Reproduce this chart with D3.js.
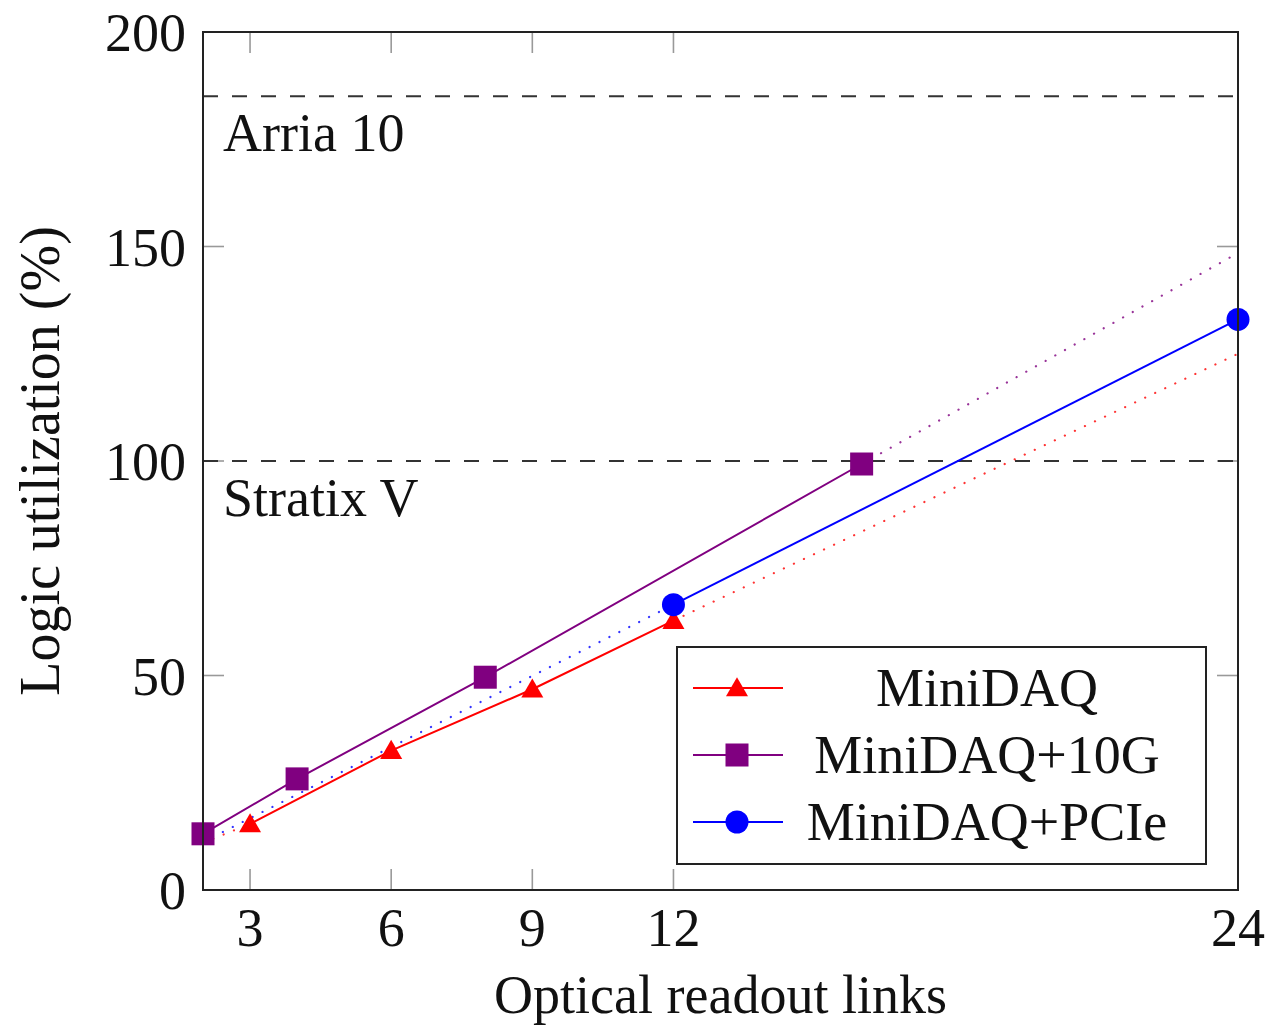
<!DOCTYPE html>
<html lang="en">
<head>
  <meta charset="UTF-8">
  <title>Logic utilization</title>
  <style>
    body { margin: 0; background: #fff; }
    text { font-family: 'Liberation Serif', 'DejaVu Serif', serif; fill: #111; }
  </style>
</head>
<body>
  <div id="svg"></div>
  <script src="https://d3js.org/d3.v7.min.js"></script>
  <script>
    // data
    const xTicks = [3, 6, 9, 12, 24]
    const yTicks = [0, 50, 100, 150, 200]

    const miniX = [3, 6, 9, 12]
    const miniY = [15.4, 32.5, 46.8, 62.8]
    const tenGX = [2, 4, 8, 16]
    const tenGY = [13.1, 25.9, 49.6, 99.3]
    const pcieX = [12, 24]
    const pcieY = [66.5, 133]

    // dotted extrapolations
    const miniFitX = [[2, 3], [12, 24]]
    const miniFitY = [[11.0, 15.4], [62.8, 125]]
    const tenGFitX = [[16, 24]]
    const tenGFitY = [[99.3, 148.5]]
    const pcieFitX = [[2, 12]]
    const pcieFitY = [[11.2, 66.5]]

    const limitNames = ['Arria 10', 'Stratix V']
    const limitValues = [185, 100]

    const seriesNames = ['MiniDAQ', 'MiniDAQ+10G', 'MiniDAQ+PCIe']

    const width = 1269
    const height = 1026
    const padding = { top: 32, left: 203, bottom: 136, right: 31 }

    const svg = d3.select('#svg').append('svg').attr('width', width).attr('height', height)

    const xScale = d3.scaleLinear().domain([2, 24]).range([padding.left, width - padding.right])
    const yScale = d3.scaleLinear().domain([0, 200]).range([height - padding.bottom, padding.top])

    const x0 = xScale.range()[0], x1 = xScale.range()[1]
    const y0 = yScale.range()[0], y1 = yScale.range()[1]

    const fs = 54
    const tickLen = 21

    // ticks (inward, gray, on all four sides)
    const tickG = svg.append('g').attr('stroke', '#999').attr('stroke-width', 1.6)
    xTicks.forEach(t => {
      tickG.append('line').attr('x1', xScale(t)).attr('x2', xScale(t)).attr('y1', y0).attr('y2', y0 - tickLen)
      tickG.append('line').attr('x1', xScale(t)).attr('x2', xScale(t)).attr('y1', y1).attr('y2', y1 + tickLen)
    })
    yTicks.forEach(t => {
      tickG.append('line').attr('x1', x0).attr('x2', x0 + tickLen).attr('y1', yScale(t)).attr('y2', yScale(t))
      tickG.append('line').attr('x1', x1).attr('x2', x1 - tickLen).attr('y1', yScale(t)).attr('y2', yScale(t))
    })

    // tick labels
    svg.selectAll('.xl').data(xTicks).enter().append('text')
      .attr('x', d => xScale(d)).attr('y', y0 + 56)
      .attr('text-anchor', 'middle').attr('font-size', fs)
      .text(d => d)
    svg.selectAll('.yl').data(yTicks).enter().append('text')
      .attr('x', x0 - 17).attr('y', d => yScale(d) + 19)
      .attr('text-anchor', 'end').attr('font-size', fs)
      .text(d => d)

    // axis titles
    svg.append('text').attr('x', (x0 + x1) / 2).attr('y', 1013)
      .attr('text-anchor', 'middle').attr('font-size', fs).text('Optical readout links')
    svg.append('text')
      .attr('transform', `translate(59,${(y0 + y1) / 2}) rotate(-90)`)
      .attr('text-anchor', 'middle').attr('font-size', fs + 2).text('Logic utilization (%)')

    // limit lines
    limitValues.forEach((v, i) => {
      svg.append('line').attr('x1', x0).attr('x2', x1).attr('y1', yScale(v)).attr('y2', yScale(v))
        .attr('stroke', '#333').attr('stroke-width', 2).attr('stroke-dasharray', '15,14')
      svg.append('text').attr('x', x0 + 20).attr('y', yScale(v) + 55)
        .attr('font-size', fs).text(limitNames[i])
    })

    const line = d3.line().x(d => xScale(d[0])).y(d => yScale(d[1]))
    const zip = (xs, ys) => xs.map((x, i) => [x, ys[i]])

    // dotted extrapolations
    const drawFit = (xs, ys, color) => {
      xs.forEach((seg, i) => {
        svg.append('path').attr('d', line(zip(seg, ys[i])))
          .attr('fill', 'none').attr('stroke', color).attr('stroke-width', 2.2)
          .attr('stroke-linecap', 'round').attr('stroke-dasharray', '0.1,11').attr('opacity', 0.8)
      })
    }
    drawFit(pcieFitX, pcieFitY, 'blue')
    drawFit(miniFitX, miniFitY, 'red')
    drawFit(tenGFitX, tenGFitY, 'purple')

    // marker shapes
    const tri = d3.symbol().type(d3.symbolTriangle).size(210)
    const drawMarker = (g, kind, color) => {
      if (kind === 'tri') g.append('path').attr('d', tri()).attr('fill', color).attr('transform', 'translate(0,2)')
      if (kind === 'sq') g.append('rect').attr('x', -11.5).attr('y', -11.5).attr('width', 23).attr('height', 23).attr('fill', color)
      if (kind === 'circ') g.append('circle').attr('r', 11.5).attr('fill', color)
    }

    const drawSeries = (xs, ys, color, kind) => {
      const pts = zip(xs, ys)
      svg.append('path').attr('d', line(pts)).attr('fill', 'none')
        .attr('stroke', color).attr('stroke-width', 2)
      pts.forEach(p => {
        const g = svg.append('g').attr('transform', `translate(${xScale(p[0])},${yScale(p[1])})`)
        drawMarker(g, kind, color)
      })
    }
    drawSeries(miniX, miniY, 'red', 'tri')
    drawSeries(tenGX, tenGY, 'purple', 'sq')
    drawSeries(pcieX, pcieY, 'blue', 'circ')

    // frame
    svg.append('rect').attr('x', x0).attr('y', y1).attr('width', x1 - x0).attr('height', y0 - y1)
      .attr('fill', 'none').attr('stroke', '#222').attr('stroke-width', 2)

    // legend
    const leg = svg.append('g').attr('transform', 'translate(677,647)')
    leg.append('rect').attr('width', 529).attr('height', 217)
      .attr('fill', '#fff').attr('stroke', '#222').attr('stroke-width', 2)
    const legColors = ['red', 'purple', 'blue']
    const legKinds = ['tri', 'sq', 'circ']
    seriesNames.forEach((name, i) => {
      const cy = 41 + i * 67
      leg.append('line').attr('x1', 16).attr('x2', 106).attr('y1', cy).attr('y2', cy)
        .attr('stroke', legColors[i]).attr('stroke-width', 2)
      drawMarker(leg.append('g').attr('transform', `translate(60,${cy})`), legKinds[i], legColors[i])
      leg.append('text').attr('x', 310).attr('y', cy + 18).attr('text-anchor', 'middle')
        .attr('font-size', fs).text(name)
    })
  </script>
</body>
</html>
